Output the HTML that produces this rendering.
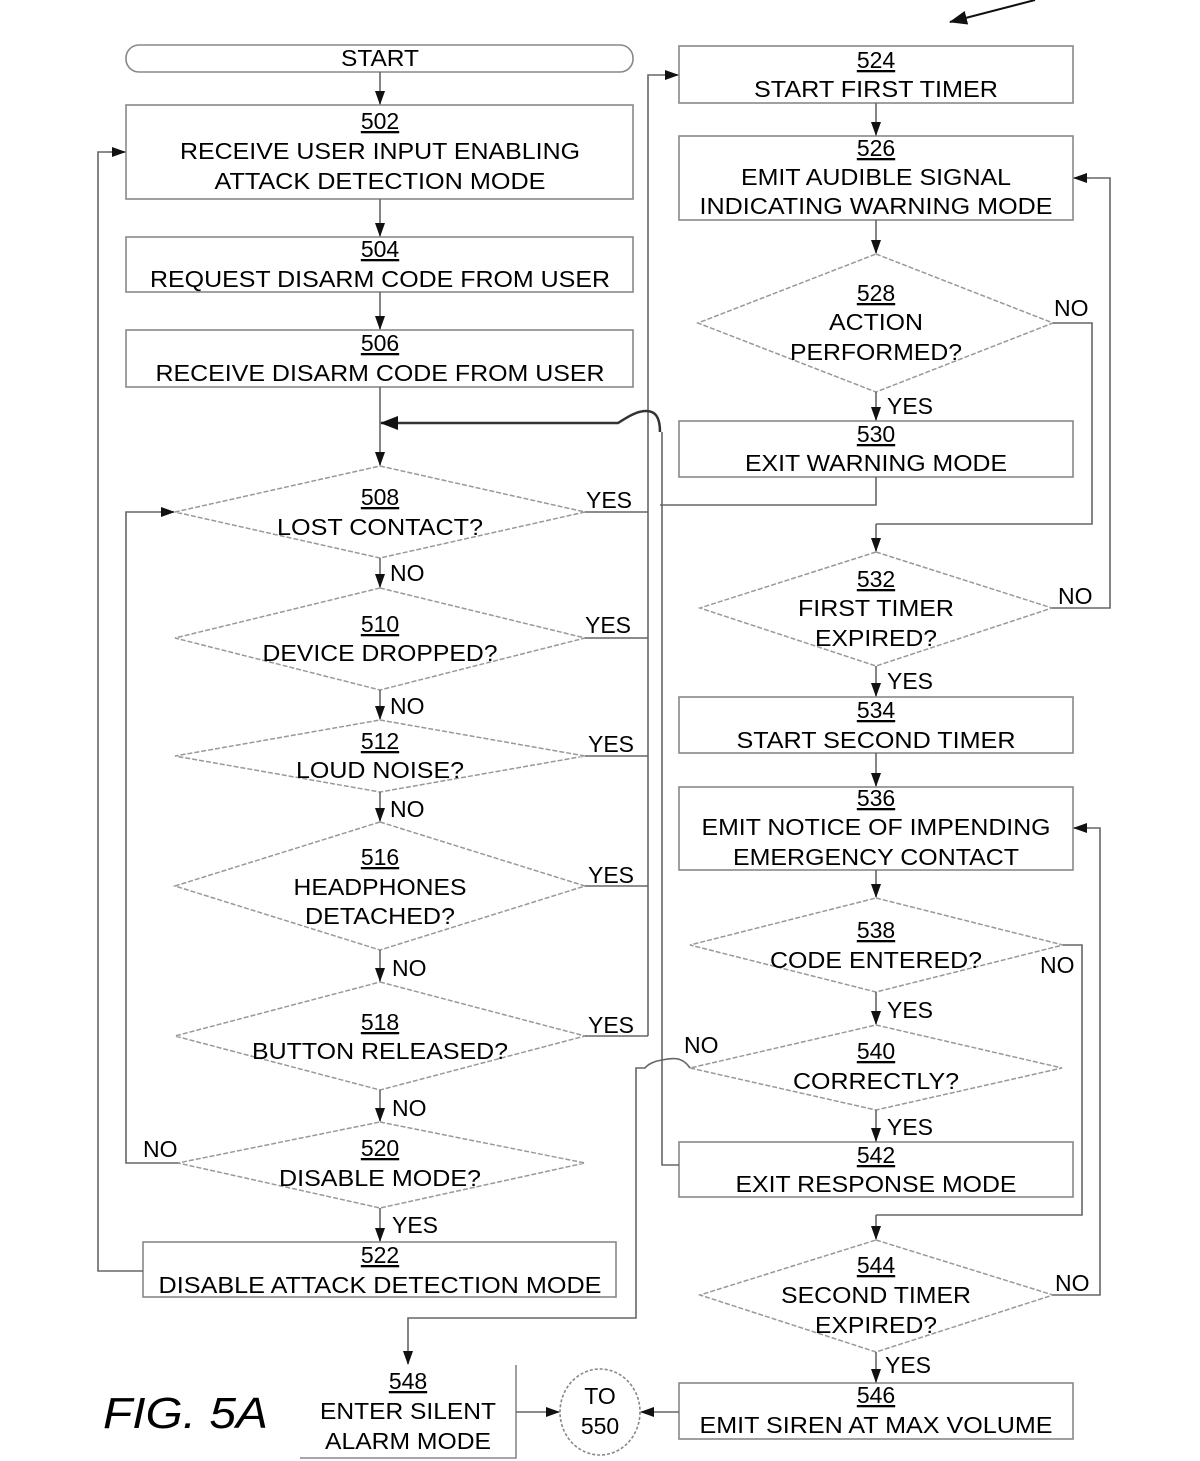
<!DOCTYPE html>
<html><head><meta charset="utf-8"><style>
html,body{margin:0;padding:0;background:#fff}
svg{display:block}
text{font-family:"Liberation Sans",Arial,sans-serif;fill:#000;font-size:23px}
.n{text-decoration:underline}
</style></head><body>
<svg width="1200" height="1461" viewBox="0 0 1200 1461" xmlns="http://www.w3.org/2000/svg">
<defs>
<marker id="a" markerWidth="14" markerHeight="10" refX="13" refY="5" orient="auto" markerUnits="userSpaceOnUse"><path d="M0,0 L14,5 L0,10 z" fill="#111"/></marker>
<marker id="b" markerWidth="18" markerHeight="16" refX="17" refY="8" orient="auto" markerUnits="userSpaceOnUse"><path d="M0,1 L18,8 L0,15 z" fill="#111"/></marker>
</defs>
<g fill="none" stroke="#888" stroke-width="1.6">
<rect x="126" y="45" width="507" height="27" rx="13"/>
<rect x="126" y="105" width="507" height="94"/>
<rect x="126" y="237" width="507" height="55"/>
<rect x="126" y="330" width="507" height="57"/>
<rect x="143" y="1242" width="473" height="55"/>
<path d="M300 1458 H516 V1365"/>
<ellipse cx="600" cy="1412" rx="40" ry="43" stroke-dasharray="3 2"/>
<rect x="679" y="46" width="394" height="57"/>
<rect x="679" y="136" width="394" height="84"/>
<rect x="679" y="421" width="394" height="56"/>
<rect x="679" y="697" width="394" height="56"/>
<rect x="679" y="787" width="394" height="83"/>
<rect x="679" y="1142" width="394" height="55"/>
<rect x="679" y="1383" width="394" height="56"/>
</g>
<g fill="none" stroke="#999" stroke-width="1.5" stroke-dasharray="5 2">
<polygon points="380,466 585,512 380,558 175,512"/>
<polygon points="380,588 585,638 380,690 175,638"/>
<polygon points="380,720 585,756 380,792 175,756"/>
<polygon points="380,822 585,886 380,950 175,886"/>
<polygon points="380,982 585,1036 380,1090 175,1036"/>
<polygon points="380,1122 585,1163 380,1208 178,1163"/>
<polygon points="876,254 1053,323 876,392 698,323"/>
<polygon points="876,552 1052,608 876,666 700,608"/>
<polygon points="876,898 1063,945 876,992 690,945"/>
<polygon points="876,1025 1062,1068 876,1110 690,1068"/>
<polygon points="876,1240 1053,1295 876,1352 700,1295"/>
</g>
<g fill="none" stroke="#666" stroke-width="1.6">
<line x1="380" y1="72" x2="380" y2="104" marker-end="url(#a)"/>
<line x1="380" y1="199" x2="380" y2="236" marker-end="url(#a)"/>
<line x1="380" y1="292" x2="380" y2="329" marker-end="url(#a)"/>
<line x1="380" y1="387" x2="380" y2="465" marker-end="url(#a)"/>
<line x1="380" y1="558" x2="380" y2="587" marker-end="url(#a)"/>
<line x1="380" y1="690" x2="380" y2="719" marker-end="url(#a)"/>
<line x1="380" y1="792" x2="380" y2="821" marker-end="url(#a)"/>
<line x1="380" y1="950" x2="380" y2="981" marker-end="url(#a)"/>
<line x1="380" y1="1090" x2="380" y2="1121" marker-end="url(#a)"/>
<line x1="380" y1="1208" x2="380" y2="1241" marker-end="url(#a)"/>
<path d="M585 512 H648 M585 638 H648 M585 756 H648 M585 886 H648 M585 1036 H648"/>
<path d="M648 1036 V75 H660" />
<line x1="660" y1="75" x2="678" y2="75" marker-end="url(#a)"/>
<path d="M178 1163 H126 V512 H160"/>
<line x1="160" y1="512" x2="174" y2="512" marker-end="url(#a)"/>
<path d="M143 1271 H98 V152 H110"/>
<line x1="110" y1="152" x2="125" y2="152" marker-end="url(#a)"/>
<line x1="876" y1="103" x2="876" y2="135" marker-end="url(#a)"/>
<line x1="876" y1="220" x2="876" y2="253" marker-end="url(#a)"/>
<line x1="876" y1="392" x2="876" y2="420" marker-end="url(#a)"/>
<path d="M876 477 V505 H660"/>
<path d="M1053 323 H1092 V524 H876"/>
<line x1="876" y1="524" x2="876" y2="551" marker-end="url(#a)"/>
<path d="M1052 608 H1110 V178 H1090"/>
<line x1="1090" y1="178" x2="1074" y2="178" marker-end="url(#a)"/>
<line x1="876" y1="666" x2="876" y2="696" marker-end="url(#a)"/>
<line x1="876" y1="753" x2="876" y2="786" marker-end="url(#a)"/>
<line x1="876" y1="870" x2="876" y2="897" marker-end="url(#a)"/>
<line x1="876" y1="992" x2="876" y2="1024" marker-end="url(#a)"/>
<line x1="876" y1="1110" x2="876" y2="1141" marker-end="url(#a)"/>
<path d="M1063 945 H1082 V1215 H876"/>
<line x1="876" y1="1215" x2="876" y2="1239" marker-end="url(#a)"/>
<path d="M1053 1295 H1100 V828 H1090"/>
<line x1="1090" y1="828" x2="1074" y2="828" marker-end="url(#a)"/>
<line x1="876" y1="1352" x2="876" y2="1382" marker-end="url(#a)"/>
<line x1="679" y1="1412" x2="641" y2="1412" marker-end="url(#a)"/>
<line x1="516" y1="1412" x2="559" y2="1412" marker-end="url(#a)"/>
<path d="M679 1165 H662 V432"/>
<path d="M690 1068 C682 1056 672 1058 662 1060 C655 1061 648 1064 645 1068 H636 V1318 H408 V1340"/>
<line x1="408" y1="1340" x2="408" y2="1364" marker-end="url(#a)"/>
</g>
<path d="M660 432 C660 418 656 411 646 411 C636 411 626 418 618 423 H400" fill="none" stroke="#333" stroke-width="2.5"/>
<line x1="400" y1="423" x2="381" y2="423" stroke="#333" stroke-width="2.5" marker-end="url(#b)"/>
<line x1="1035" y1="0" x2="950" y2="22" stroke="#111" stroke-width="2" marker-end="url(#b)"/>

<g text-anchor="middle">
<text x="380" y="66" textLength="78" lengthAdjust="spacingAndGlyphs">START</text>
<text x="380" y="129" class="n">502</text>
<text x="380" y="159" textLength="400" lengthAdjust="spacingAndGlyphs">RECEIVE USER INPUT ENABLING</text>
<text x="380" y="189" textLength="331" lengthAdjust="spacingAndGlyphs">ATTACK DETECTION MODE</text>
<text x="380" y="257" class="n">504</text>
<text x="380" y="287" textLength="460" lengthAdjust="spacingAndGlyphs">REQUEST DISARM CODE FROM USER</text>
<text x="380" y="351" class="n">506</text>
<text x="380" y="381" textLength="449" lengthAdjust="spacingAndGlyphs">RECEIVE DISARM CODE FROM USER</text>
<text x="380" y="505" class="n">508</text>
<text x="380" y="535" textLength="206" lengthAdjust="spacingAndGlyphs">LOST CONTACT?</text>
<text x="380" y="632" class="n">510</text>
<text x="380" y="661" textLength="235" lengthAdjust="spacingAndGlyphs">DEVICE DROPPED?</text>
<text x="380" y="749" class="n">512</text>
<text x="380" y="778" textLength="168" lengthAdjust="spacingAndGlyphs">LOUD NOISE?</text>
<text x="380" y="865" class="n">516</text>
<text x="380" y="895" textLength="173" lengthAdjust="spacingAndGlyphs">HEADPHONES</text>
<text x="380" y="924" textLength="150" lengthAdjust="spacingAndGlyphs">DETACHED?</text>
<text x="380" y="1030" class="n">518</text>
<text x="380" y="1059" textLength="256" lengthAdjust="spacingAndGlyphs">BUTTON RELEASED?</text>
<text x="380" y="1156" class="n">520</text>
<text x="380" y="1186" textLength="202" lengthAdjust="spacingAndGlyphs">DISABLE MODE?</text>
<text x="380" y="1263" class="n">522</text>
<text x="380" y="1293" textLength="443" lengthAdjust="spacingAndGlyphs">DISABLE ATTACK DETECTION MODE</text>
<text x="408" y="1389" class="n">548</text>
<text x="408" y="1419" textLength="176" lengthAdjust="spacingAndGlyphs">ENTER SILENT</text>
<text x="408" y="1449" textLength="166" lengthAdjust="spacingAndGlyphs">ALARM MODE</text>
<text x="600" y="1404">TO</text>
<text x="600" y="1434">550</text>
<text x="876" y="68" class="n">524</text>
<text x="876" y="97" textLength="244" lengthAdjust="spacingAndGlyphs">START FIRST TIMER</text>
<text x="876" y="156" class="n">526</text>
<text x="876" y="185" textLength="270" lengthAdjust="spacingAndGlyphs">EMIT AUDIBLE SIGNAL</text>
<text x="876" y="214" textLength="353" lengthAdjust="spacingAndGlyphs">INDICATING WARNING MODE</text>
<text x="876" y="301" class="n">528</text>
<text x="876" y="330" textLength="94" lengthAdjust="spacingAndGlyphs">ACTION</text>
<text x="876" y="360" textLength="172" lengthAdjust="spacingAndGlyphs">PERFORMED?</text>
<text x="876" y="442" class="n">530</text>
<text x="876" y="471" textLength="262" lengthAdjust="spacingAndGlyphs">EXIT WARNING MODE</text>
<text x="876" y="587" class="n">532</text>
<text x="876" y="616" textLength="156" lengthAdjust="spacingAndGlyphs">FIRST TIMER</text>
<text x="876" y="646" textLength="122" lengthAdjust="spacingAndGlyphs">EXPIRED?</text>
<text x="876" y="718" class="n">534</text>
<text x="876" y="748" textLength="279" lengthAdjust="spacingAndGlyphs">START SECOND TIMER</text>
<text x="876" y="806" class="n">536</text>
<text x="876" y="835" textLength="349" lengthAdjust="spacingAndGlyphs">EMIT NOTICE OF IMPENDING</text>
<text x="876" y="865" textLength="286" lengthAdjust="spacingAndGlyphs">EMERGENCY CONTACT</text>
<text x="876" y="938" class="n">538</text>
<text x="876" y="968" textLength="212" lengthAdjust="spacingAndGlyphs">CODE ENTERED?</text>
<text x="876" y="1059" class="n">540</text>
<text x="876" y="1089" textLength="166" lengthAdjust="spacingAndGlyphs">CORRECTLY?</text>
<text x="876" y="1163" class="n">542</text>
<text x="876" y="1192" textLength="281" lengthAdjust="spacingAndGlyphs">EXIT RESPONSE MODE</text>
<text x="876" y="1273" class="n">544</text>
<text x="876" y="1303" textLength="190" lengthAdjust="spacingAndGlyphs">SECOND TIMER</text>
<text x="876" y="1333" textLength="122" lengthAdjust="spacingAndGlyphs">EXPIRED?</text>
<text x="876" y="1403" class="n">546</text>
<text x="876" y="1433" textLength="353" lengthAdjust="spacingAndGlyphs">EMIT SIREN AT MAX VOLUME</text>
</g>
<g>
<text x="586" y="508">YES</text>
<text x="585" y="633">YES</text>
<text x="588" y="752">YES</text>
<text x="588" y="883">YES</text>
<text x="588" y="1033">YES</text>
<text x="390" y="581">NO</text>
<text x="390" y="714">NO</text>
<text x="390" y="817">NO</text>
<text x="392" y="976">NO</text>
<text x="392" y="1116">NO</text>
<text x="392" y="1233">YES</text>
<text x="143" y="1157">NO</text>
<text x="1054" y="316">NO</text>
<text x="887" y="414">YES</text>
<text x="1058" y="604">NO</text>
<text x="887" y="689">YES</text>
<text x="1040" y="973">NO</text>
<text x="887" y="1018">YES</text>
<text x="684" y="1053">NO</text>
<text x="887" y="1135">YES</text>
<text x="1055" y="1291">NO</text>
<text x="885" y="1373">YES</text>
<text x="103" y="1428" style="font-style:italic;font-size:44px" textLength="165" lengthAdjust="spacingAndGlyphs">FIG. 5A</text>
</g>
</svg>
</body></html>
